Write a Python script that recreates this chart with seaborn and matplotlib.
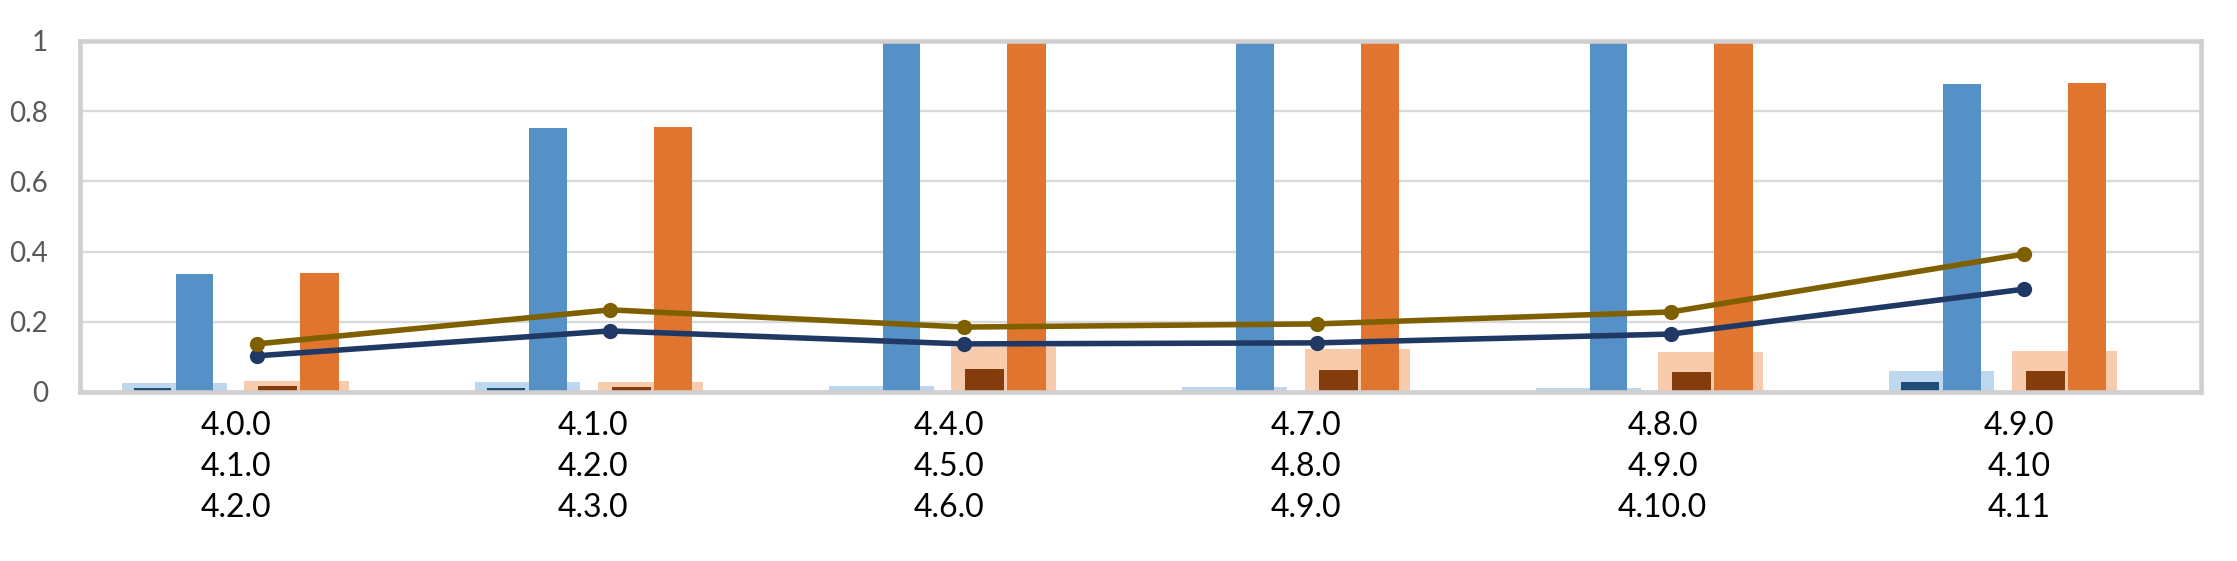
import matplotlib
matplotlib.use('Agg')
import matplotlib.pyplot as plt
import numpy as np
import pandas as pd
import seaborn as sns

# Data
categories = ['4.0.0\n4.1.0\n4.2.0', '4.1.0\n4.2.0\n4.3.0', '4.4.0\n4.5.0\n4.6.0',
              '4.7.0\n4.8.0\n4.9.0', '4.8.0\n4.9.0\n4.10.0', '4.9.0\n4.10\n4.11']
light_blue = [0.026, 0.028, 0.017, 0.014, 0.011, 0.060]
navy_bar = [0.011, 0.011, 0.003, 0.003, 0.001, 0.028]
mid_blue = [0.336, 0.752, 1.0, 1.0, 1.0, 0.877]
light_orange = [0.031, 0.028, 0.128, 0.122, 0.114, 0.117]
brown_bar = [0.017, 0.014, 0.065, 0.063, 0.057, 0.060]
orange = [0.338, 0.755, 1.0, 1.0, 1.0, 0.879]
navy_line = [0.103, 0.174, 0.137, 0.140, 0.165, 0.293]
gold_line = [0.137, 0.234, 0.185, 0.194, 0.228, 0.393]
y_ticks = [0, 0.2, 0.4, 0.6, 0.8, 1.0]
y_labels = ['0', '0.2', '0.4', '0.6', '0.8', '1']

sns.set_theme(style='white')
plt.rcParams['font.family'] = ['Lato', 'DejaVu Sans']

fig = plt.figure(figsize=(22.37, 5.61), dpi=100)
ax = fig.add_axes([0.03576, 0.30125, 0.94815, 0.62567])

x = np.arange(len(categories))

# wide pale bars behind, narrow dark bars in front
ax.bar(x - 0.233, light_blue, width=0.297, color='#BDD7EE', linewidth=0, zorder=2)
ax.bar(x + 0.1125, light_orange, width=0.297, color='#F8CBAD', linewidth=0, zorder=2)
ax.bar(x - 0.295, navy_bar, width=0.105, color='#1F4E79', linewidth=0, zorder=3)
ax.bar(x - 0.176, mid_blue, width=0.105, color='#5591C7', linewidth=0, zorder=3)
ax.bar(x + 0.059, brown_bar, width=0.11, color='#843C0C', linewidth=0, zorder=3)
ax.bar(x + 0.1775, orange, width=0.11, color='#DF752E', linewidth=0, zorder=3)

lines = pd.DataFrame({'x': np.concatenate([x, x]),
                      'y': navy_line + gold_line,
                      'series': ['navy'] * len(x) + ['gold'] * len(x)})
sns.lineplot(data=lines, x='x', y='y', hue='series',
             palette={'navy': '#203864', 'gold': '#7F6000'},
             marker='o', markersize=11, markeredgewidth=0, linewidth=4,
             legend=False, ax=ax, zorder=5)

ax.set_xlim(-0.5, len(categories) - 0.5)
ax.set_ylim(0, 1)
ax.set_yticks(y_ticks)
ax.set_yticklabels(y_labels, fontsize=20, color='#595959')
ax.yaxis.grid(True, color='#D9D9D9', linewidth=1.7, zorder=0)
ax.set_axisbelow(True)

tick_pos = x * 1.009 - 0.059
ax.set_xticks(tick_pos)
ax.set_xticklabels(categories, fontsize=23, color='black', linespacing=1.45)
ax.tick_params(axis='both', length=0)
ax.tick_params(axis='y', pad=23)
ax.tick_params(axis='x', pad=14)
ax.set_xlabel('')
ax.set_ylabel('')

for s in ax.spines.values():
    s.set_color('#D0CECE')
    s.set_linewidth(3.3)
    s.set_zorder(4)

fig.savefig('out.png', dpi=100, facecolor='white')
